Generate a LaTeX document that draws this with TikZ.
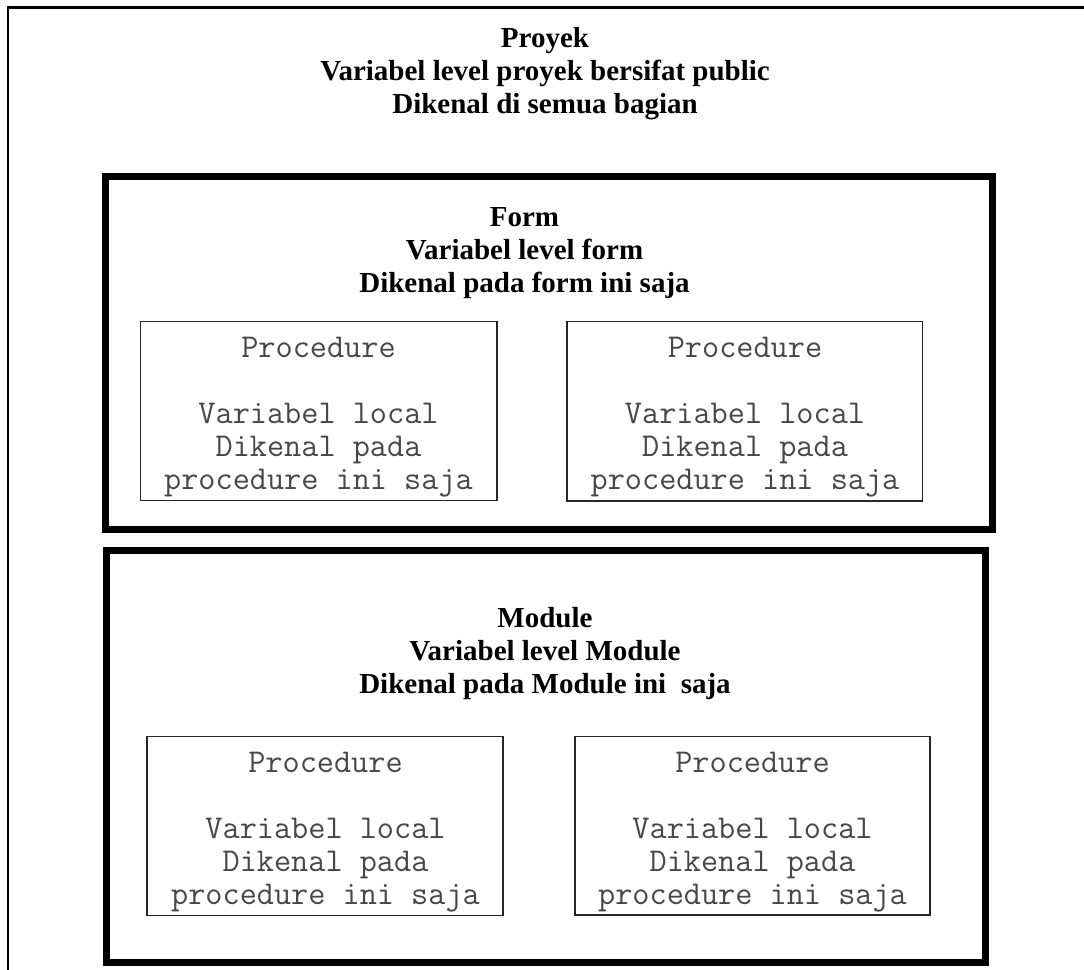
\documentclass[tikz,border=0pt]{standalone}
\usepackage{fontspec}
\setmainfont{Liberation Serif}
\tikzset{
  outerframe/.style={draw=black, line width=2.2pt},
  bigbox/.style={draw=black, line width=7pt},
  procbox/.style={draw=black!85, line width=1.6pt},
  titletext/.style={font=\fontsize{29}{33}\selectfont\bfseries, anchor=base, inner sep=0pt},
  proctext/.style={font=\fontsize{33.3}{33}\selectfont\ttfamily, text=black!72, anchor=base, inner sep=0pt},
}
\begin{document}
\begin{tikzpicture}[x=1pt,y=-1pt]
\useasboundingbox (0,0) rectangle (1084,969);
\fill[white] (0,0) rectangle (1084,969);
\begin{scope}
  \clip (0,0) rectangle (1084,969);
  \draw[outerframe] (8,7.5) rectangle (1110,1010);
\end{scope}

% Proyek title
\node[titletext] (proyek1) at (545,47) {Proyek};
\node[titletext] (proyek2) at (545,80) {Variabel level proyek bersifat public};
\node[titletext] (proyek3) at (545,113) {Dikenal di semua bagian};

% Form box
\draw[bigbox] (105.5,176.5) rectangle (992,529.5);
\node[titletext] (form1) at (524.5,226) {Form};
\node[titletext] (form2) at (524.5,259) {Variabel level form};
\node[titletext] (form3) at (524.5,292) {Dikenal pada form ini saja};

% Module box
\draw[bigbox] (106,550) rectangle (985.5,962.5);
\node[titletext] (module1) at (545,627) {Module};
\node[titletext] (module2) at (545,660) {Variabel level Module};
\node[titletext] (module3) at (545,693) {Dikenal pada Module ini\ \ saja};

% Procedure boxes
\draw[procbox] (140.5,321.5) rectangle (497,500.5);
\draw[procbox] (567,321.5) rectangle (922.5,501);
\draw[procbox] (147,736.5) rectangle (503,915.5);
\draw[procbox] (575,736.5) rectangle (930,915);

\foreach \nm/\cx/\by in {pa/318.5/357, pb/745/357, pc/325.5/772, pd/752.5/772} {
  \node[proctext] (\nm-1) at (\cx,\by) {Procedure};
  \node[proctext] (\nm-2) at (\cx,\by+66) {Variabel local};
  \node[proctext] (\nm-3) at (\cx,\by+99) {Dikenal pada};
  \node[proctext] (\nm-4) at (\cx,\by+132) {procedure ini saja};
}
\end{tikzpicture}
\end{document}
